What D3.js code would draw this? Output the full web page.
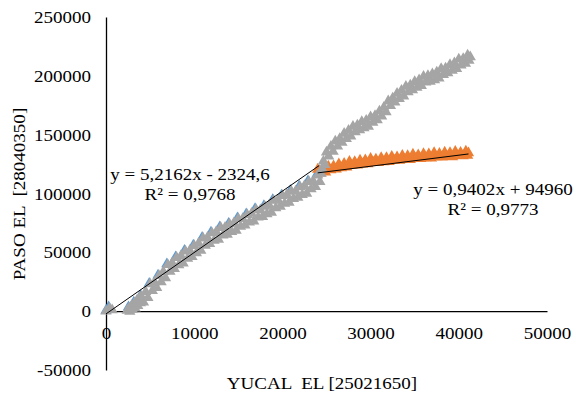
<!DOCTYPE html>
<html>
<head>
<meta charset="utf-8">
<script src="https://cdn.jsdelivr.net/npm/d3@7"></script>
<style>
  body { margin: 0; background: #fff; }
  svg { display: block; }
  text { font-family: "Liberation Serif", "Times New Roman", serif; fill: #000; }
</style>
</head>
<body>
<svg id="chart" width="576" height="395"></svg>
<script>
// ticks
const xTicks = [0, 10000, 20000, 30000, 40000, 50000];
const yTicks = [-50000, 0, 50000, 100000, 150000, 200000, 250000];

// serie 1 (azul) - primer tramo, casi oculta bajo la gris
const serieAzul = [
  [0, 500], [300, 3500], [2550, 3500], [3150, 7500],
  [3900, 13100], [4900, 23600], [5900, 30600], [6900, 40100], [7900, 46100], [8900, 51600],
  [9900, 56100], [10900, 62600], [11900, 67100], [12900, 71600], [13900, 74600], [14900, 79100],
  [15900, 82600], [16900, 87100], [17900, 89600], [18900, 94600], [19900, 98600], [20900, 102600],
  [21900, 106100], [22900, 110600], [23900, 116100], [24200, 118000]
];

// serie 2 (naranja) - segundo tramo
const serieNaranja = [
  [24000, 120500], [24300, 117200], [24600, 121100], [24900, 118100], [25200, 123100],
  [25500, 120000], [25800, 123300], [26100, 120650], [26400, 125100], [26700, 121750],
  [27000, 125500], [27300, 122250], [27600, 127100], [27900, 123850], [28200, 126900],
  [28500, 124000], [28800, 128300], [29100, 124800], [29400, 128400], [29700, 125000],
  [30000, 129700], [30300, 126250], [30600, 129200], [30900, 126200], [31200, 130450],
  [31500, 126850], [31800, 130350], [32100, 126900], [32400, 131500], [32700, 128050],
  [33000, 131000], [33300, 128000], [33600, 132200], [33900, 128650], [34200, 132150],
  [34500, 128650], [34800, 133250], [35100, 129750], [35400, 132650], [35700, 129600],
  [36000, 133800], [36300, 130150], [36600, 133600], [36900, 130050], [37200, 134600],
  [37500, 131050], [37800, 133900], [38100, 130850], [38400, 134950], [38700, 131300],
  [39000, 134700], [39300, 131100], [39600, 135650], [39900, 132050], [40200, 134900],
  [40500, 131800], [40800, 135900], [41000, 132200], [41100, 134500]
];

// serie 3 (gris) - registro completo
const serieGris = [
  [0, 0], [400, 2500], [700, 1000],
  [2400, 500], [2600, 2500], [2700, -300], [2900, 4500], [3000, 1500], [3200, 6500],
  [3300, 2500], [3500, 9000], [3600, 4500], [3800, 11500], [3900, 7000],
  [4000, 12500], [4250, 7500], [4500, 16500], [4750, 11500], [5000, 23000], [5250, 17250],
  [5500, 24500], [5750, 20000], [6000, 30000], [6250, 24750], [6500, 33500], [6750, 28250],
  [7000, 39500], [7250, 33750], [7500, 41000], [7750, 36000], [8000, 45500], [8250, 39250],
  [8500, 47000], [8750, 40750], [9000, 51000], [9250, 44750], [9500, 51500], [9750, 46250],
  [10000, 55500], [10250, 49500], [10500, 57500], [10750, 51500], [11000, 62000], [11250, 55750],
  [11500, 62500], [11750, 57250], [12000, 66500], [12250, 60000], [12500, 67500], [12750, 61000],
  [13000, 71000], [13250, 64500], [13500, 71000], [13750, 65250], [14000, 74000], [14250, 67500],
  [14500, 75000], [14750, 68500], [15000, 78500], [15250, 72000], [15500, 78500], [15750, 73000],
  [16000, 82000], [16250, 75500], [16500, 83000], [16750, 76500], [17000, 86500], [17250, 79750],
  [17500, 86000], [17750, 80250], [18000, 89000], [18250, 82500], [18500, 90000], [18750, 83750],
  [19000, 94000], [19250, 87750], [19500, 94500], [19750, 89000], [20000, 98000], [20250, 91500],
  [20500, 99000], [20750, 92250], [21000, 102000], [21250, 95500], [21500, 102000], [21750, 96500],
  [22000, 105500], [22250, 99000], [22500, 106500], [22750, 100000], [23000, 110000],
  [23250, 103750], [23500, 110500], [23750, 105750], [24000, 115500], [24250, 110000],
  [24400, 117000],
  [24500, 121000], [24650, 127500], [24800, 124500],
  [25000, 135000], [25250, 131750], [25500, 140000], [25750, 135750], [26000, 144500],
  [26250, 140250], [26500, 146500], [26750, 143250], [27000, 151000], [27250, 146500],
  [27500, 153500], [27750, 148750], [28000, 157000], [28250, 152250], [28500, 158000],
  [28750, 154000], [29000, 161000], [29250, 155750], [29500, 162000], [29750, 157000],
  [30000, 165000], [30250, 160250], [30500, 166000], [30750, 162500], [31000, 170000],
  [31250, 165750], [31500, 173000], [31750, 169250], [32000, 178500], [32250, 174500],
  [32500, 181000], [32750, 177500], [33000, 185000], [33250, 180500], [33500, 187500],
  [33750, 182750], [34000, 191000], [34250, 186250], [34500, 192000], [34750, 188000],
  [35000, 195000], [35250, 190000], [35500, 196500], [35750, 191500], [36000, 199500],
  [36250, 194500], [36500, 200000], [36750, 195250], [37000, 201500], [37250, 196500],
  [37500, 203000], [37750, 198000], [38000, 206000], [38250, 201000], [38500, 206500],
  [38750, 202500], [39000, 209500], [39250, 204500], [39500, 211000], [39750, 206000],
  [40000, 214000], [40250, 209000], [40500, 214500], [40750, 210500], [41000, 217500],
  [41150, 213000], [41300, 216000]
];

// lineas de tendencia: [pendiente, intercepto, x inicial, x final]
const tendAzul = [5.2162, -2324.6, 0, 24200];
const tendNaranja = [0.9402, 94960, 24000, 41100];
const etiquetaAzul = ["y = 5,2162x - 2324,6", "R² = 0,9768"];
const etiquetaNaranja = ["y = 0,9402x + 94960", "R² = 0,9773"];

const SX = 1.12;   // the reference type is a bit wide
const FS = 17;

const svg = d3.select('#chart');
svg.append('rect').attr('width', 576).attr('height', 395).attr('fill', '#fff');

const x = d3.scaleLinear().domain([0, 50000]).range([106, 547]);
const y = d3.scaleLinear().domain([-50000, 250000]).range([370, 17]);

// x axis
svg.append('g')
  .attr('transform', `translate(0,${y(0)})`)
  .call(d3.axisBottom(x).tickValues(xTicks).tickSize(0).tickSizeOuter(0).tickFormat(d => String(d)))
  .call(g => g.select('.domain').attr('stroke', '#000').attr('stroke-width', 1.3))
  .call(g => g.selectAll('text')
    .attr('y', 0).attr('dy', null)
    .attr('font-size', FS).attr('font-family', null)
    .attr('transform', `translate(0,28) scale(${SX},1)`));

// y axis
svg.append('g')
  .attr('transform', `translate(${x(0)},0)`)
  .call(d3.axisLeft(y).tickValues(yTicks).tickSize(0).tickSizeOuter(0).tickFormat(d => String(d)))
  .call(g => g.select('.domain').attr('stroke', '#000').attr('stroke-width', 1.3))
  .call(g => g.selectAll('text')
    .attr('x', 0).attr('dy', '0.33em')
    .attr('font-size', FS).attr('font-family', null)
    .attr('transform', `translate(-15,0) scale(${SX},1)`));

// series
const tri = d3.symbol(d3.symbolTriangle, 55);
function drawSerie(data, color) {
  svg.append('g').selectAll('path')
    .data(data)
    .enter()
    .append('path')
    .attr('d', tri)
    .attr('transform', d => `translate(${x(d[0])},${y(d[1])})`)
    .attr('fill', color);
}
drawSerie(serieAzul, '#5B9BD5');
drawSerie(serieNaranja, '#ED7D31');
drawSerie(serieGris, '#A5A5A5');

// trendlines
function drawTend(t) {
  svg.append('line')
    .attr('x1', x(t[2])).attr('y1', y(t[0] * t[2] + t[1]))
    .attr('x2', x(t[3])).attr('y2', y(t[0] * t[3] + t[1]))
    .attr('stroke', '#000').attr('stroke-width', 1);
}
drawTend(tendAzul);
drawTend(tendNaranja);

function label(lines, cx, y0) {
  lines.forEach((s, i) => {
    svg.append('text')
      .attr('text-anchor', 'middle')
      .attr('font-size', FS)
      .attr('transform', `translate(${cx},${y0 + i * 20}) scale(${SX},1)`)
      .text(s);
  });
}
label(etiquetaAzul, 190, 179.5);
label(etiquetaNaranja, 493, 195);

// axis titles
svg.append('text')
  .attr('text-anchor', 'middle')
  .attr('font-size', FS)
  .style('white-space', 'pre')
  .attr('transform', `translate(322,389) scale(${SX},1)`)
  .text('YUCAL  EL [25021650]');

svg.append('text')
  .attr('text-anchor', 'middle')
  .attr('font-size', FS)
  .style('white-space', 'pre')
  .attr('transform', `translate(25,194) rotate(-90) scale(${SX},1)`)
  .text('PASO EL  [28040350]');
</script>
</body>
</html>
